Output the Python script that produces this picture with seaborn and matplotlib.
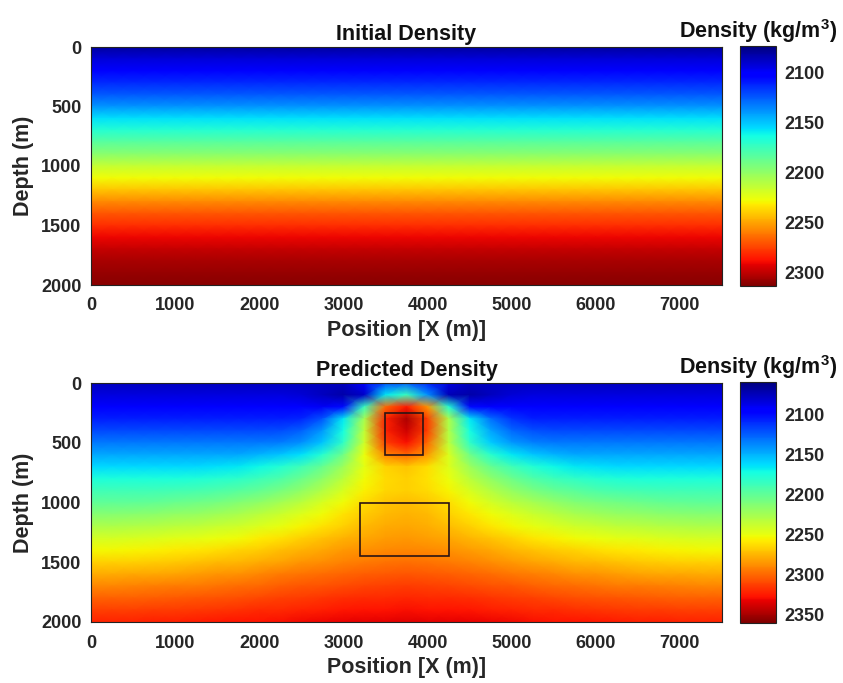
import numpy as np
import pandas as pd
import matplotlib
matplotlib.use("Agg")
import matplotlib.pyplot as plt
from matplotlib.patches import Rectangle
import seaborn as sns

# ---------------- data ----------------
# grid nodes: x every 250 m, depth every 100 m
x_nodes_m = list(range(0, 7501, 250))
depth_nodes_m = list(range(0, 2001, 100))

# initial density: depth profile (same at every x)
initial_profile = [2080, 2092, 2103, 2113, 2124, 2138, 2156, 2169, 2184, 2198,
                   2215, 2228, 2242, 2257, 2270, 2281, 2291, 2299, 2305, 2309, 2312]

# predicted density: one row per depth node, one value per x node
pred_d0000 = [2076]*13 + [2092, 2120, 2125, 2108, 2085] + [2076]*13
pred_d0100 = [2084]*10 + [2082, 2076, 2070, 2078, 2165, 2185, 2140, 2074, 2070, 2076, 2082] + [2084]*10
pred_d0200 = [2094]*9 + [2094, 2092, 2090, 2100, 2185, 2300, 2325, 2285, 2178, 2100, 2092, 2094, 2094] + [2094]*9
pred_d0300 = [2105]*10 + [2108, 2122, 2165, 2225, 2322, 2348, 2312, 2228, 2165, 2130, 2112] + [2105]*10
pred_d0400 = [2118]*9 + [2119, 2125, 2142, 2172, 2235, 2322, 2340, 2312, 2230, 2172, 2145, 2128, 2121] + [2118]*9
pred_d0500 = [2132]*9 + [2134, 2140, 2155, 2182, 2240, 2312, 2328, 2300, 2234, 2182, 2157, 2142, 2135] + [2132]*9
pred_d0600 = [2147]*8 + [2150, 2155, 2163, 2178, 2205, 2250, 2290, 2300, 2284, 2244, 2205, 2180, 2165, 2156, 2150] + [2147]*8
pred_d0700 = [2161]*6 + [2163, 2165, 2170, 2177, 2188, 2202, 2222, 2248, 2265, 2270, 2262, 2245, 2222, 2202,
                         2188, 2177, 2170, 2165, 2163] + [2161]*6
pred_d0800 = [2175]*5 + [2176, 2178, 2181, 2186, 2193, 2203, 2216, 2233, 2252, 2263, 2266, 2261, 2250, 2233,
                         2217, 2204, 2194, 2187, 2182, 2178, 2176] + [2175]*5
pred_d0900 = [2188]*4 + [2189, 2190, 2192, 2196, 2201, 2208, 2217, 2229, 2243, 2256, 2264, 2267, 2263, 2255,
                         2243, 2230, 2218, 2209, 2202, 2197, 2193, 2190, 2189] + [2188]*4
pred_d1000 = [2200, 2200, 2200, 2201, 2203, 2205, 2208, 2212, 2217, 2224, 2233, 2243, 2253, 2263, 2270, 2272,
              2269, 2262, 2252, 2242, 2233, 2225, 2218, 2213, 2209, 2206, 2204, 2202, 2201, 2200, 2200]
pred_d1100 = [2214, 2214, 2215, 2216, 2218, 2220, 2223, 2227, 2232, 2238, 2245, 2253, 2261, 2268, 2274, 2276,
              2273, 2267, 2260, 2252, 2245, 2238, 2232, 2227, 2223, 2220, 2218, 2216, 2215, 2214, 2214]
pred_d1200 = [2228, 2228, 2229, 2230, 2232, 2234, 2237, 2240, 2244, 2249, 2255, 2261, 2267, 2273, 2278, 2280,
              2277, 2272, 2266, 2260, 2254, 2249, 2244, 2240, 2237, 2234, 2232, 2230, 2229, 2228, 2228]
pred_d1300 = [2242, 2242, 2243, 2244, 2246, 2248, 2250, 2253, 2257, 2261, 2266, 2271, 2276, 2280, 2283, 2284,
              2282, 2279, 2275, 2270, 2265, 2260, 2256, 2253, 2250, 2248, 2246, 2244, 2243, 2242, 2242]
pred_d1400 = [2254, 2254, 2255, 2256, 2258, 2260, 2262, 2265, 2268, 2272, 2276, 2280, 2284, 2287, 2289, 2290,
              2289, 2286, 2283, 2279, 2275, 2271, 2268, 2265, 2262, 2260, 2258, 2256, 2255, 2254, 2254]
pred_d1500 = [2266, 2266, 2267, 2268, 2269, 2271, 2273, 2275, 2278, 2281, 2285, 2288, 2291, 2294, 2296, 2297,
              2296, 2294, 2291, 2288, 2284, 2281, 2278, 2275, 2273, 2271, 2269, 2268, 2267, 2266, 2266]
pred_d1600 = [2278, 2278, 2279, 2280, 2281, 2283, 2285, 2287, 2290, 2293, 2296, 2298, 2301, 2303, 2304, 2305,
              2304, 2303, 2301, 2298, 2295, 2292, 2290, 2287, 2285, 2283, 2281, 2280, 2279, 2278, 2278]
pred_d1700 = [2290, 2290, 2291, 2292, 2293, 2294, 2296, 2298, 2300, 2303, 2305, 2307, 2309, 2311, 2312, 2313,
              2312, 2311, 2309, 2307, 2305, 2302, 2300, 2298, 2296, 2294, 2293, 2292, 2291, 2290, 2290]
pred_d1800 = [2302, 2302, 2302, 2303, 2304, 2305, 2307, 2308, 2310, 2312, 2314, 2316, 2318, 2319, 2320, 2321,
              2320, 2319, 2318, 2316, 2314, 2312, 2310, 2308, 2307, 2305, 2304, 2303, 2302, 2302, 2302]
pred_d1900 = [2312, 2312, 2312, 2313, 2314, 2315, 2316, 2317, 2319, 2320, 2322, 2323, 2325, 2326, 2327, 2328,
              2327, 2326, 2325, 2323, 2322, 2320, 2319, 2317, 2316, 2315, 2314, 2313, 2312, 2312, 2312]
pred_d2000 = [2322, 2322, 2322, 2323, 2323, 2324, 2325, 2326, 2327, 2328, 2330, 2331, 2332, 2333, 2334, 2335,
              2334, 2333, 2332, 2331, 2330, 2328, 2327, 2326, 2325, 2324, 2323, 2323, 2322, 2322, 2322]

predicted_rows = [pred_d0000, pred_d0100, pred_d0200, pred_d0300, pred_d0400, pred_d0500, pred_d0600,
                  pred_d0700, pred_d0800, pred_d0900, pred_d1000, pred_d1100, pred_d1200, pred_d1300,
                  pred_d1400, pred_d1500, pred_d1600, pred_d1700, pred_d1800, pred_d1900, pred_d2000]

x_ticks_m = [0, 1000, 2000, 3000, 4000, 5000, 6000, 7000]
depth_ticks_m = [0, 500, 1000, 1500, 2000]
cbar_ticks_initial = [2100, 2150, 2200, 2250, 2300]
cbar_ticks_predicted = [2100, 2150, 2200, 2250, 2300, 2350]
initial_limits = (2073, 2314)
predicted_limits = (2059, 2360)

# target boxes: (x_min, x_max, depth_min, depth_max) in metres
box_upper = (3500, 3950, 250, 600)
box_lower = (3200, 4250, 1000, 1450)

# ---------------- tables ----------------
initial_df = pd.DataFrame([[v] * len(x_nodes_m) for v in initial_profile],
                          index=depth_nodes_m, columns=x_nodes_m)
predicted_df = pd.DataFrame(predicted_rows, index=depth_nodes_m, columns=x_nodes_m)

# ---------------- style ----------------
sns.set_theme(style="white")
plt.rcParams['font.family'] = ['Liberation Sans', 'DejaVu Sans']
plt.rcParams['font.weight'] = 'bold'
plt.rcParams['axes.labelweight'] = 'bold'
plt.rcParams['axes.titleweight'] = 'bold'
plt.rcParams['mathtext.fontset'] = 'custom'
plt.rcParams['mathtext.rm'] = 'Liberation Sans:bold'
plt.rcParams['mathtext.it'] = 'Liberation Sans:bold'
plt.rcParams['mathtext.bf'] = 'Liberation Sans:bold'

W, H = 843, 683
fig = plt.figure(figsize=(W / 100, H / 100), dpi=100)


def fbox(l, t, r, b):
    return [l / W, 1 - b / H, (r - l) / W, (b - t) / H]


ax1 = fig.add_axes(fbox(91, 47, 722, 285))
cax1 = fig.add_axes(fbox(740, 46, 776, 286))
ax2 = fig.add_axes(fbox(91, 383, 722, 622))
cax2 = fig.add_axes(fbox(740, 382, 776, 623))

TICK_COLOR = '#262626'
dx = x_nodes_m[1] - x_nodes_m[0]
dz = depth_nodes_m[1] - depth_nodes_m[0]


def draw(ax, cax, df, lims, cticks, title, boxes):
    sns.heatmap(df, ax=ax, cbar_ax=cax, cmap='jet', vmin=lims[0], vmax=lims[1],
                shading='gouraud', xticklabels=False, yticklabels=False)
    ax.set_xlim(0, len(x_nodes_m) - 1)
    ax.set_ylim(len(depth_nodes_m) - 1, 0)
    ax.set_xticks([v / dx for v in x_ticks_m])
    ax.set_xticklabels([str(v) for v in x_ticks_m])
    ax.set_yticks([v / dz for v in depth_ticks_m])
    ax.set_yticklabels([str(v) for v in depth_ticks_m], rotation=0)
    ax.tick_params(axis='both', direction='in', length=4, width=0.6, color='#333333',
                   top=True, right=True, bottom=True, left=True,
                   labelsize=13, labelcolor=TICK_COLOR)
    ax.tick_params(axis='x', pad=9)
    ax.tick_params(axis='y', pad=7)
    for sp in ax.spines.values():
        sp.set_visible(True)
        sp.set_color('#222222')
        sp.set_linewidth(0.8)
    ax.set_xlabel('Position [X (m)]', fontsize=15.5, color=TICK_COLOR, labelpad=4)
    ax.set_ylabel('Depth (m)', fontsize=15.5, color=TICK_COLOR, labelpad=5)
    ax.set_title(title, fontsize=15.5, color='#111111', pad=5)
    for (x0, x1, z0, z1) in boxes:
        ax.add_patch(Rectangle((x0 / dx, z0 / dz), (x1 - x0) / dx, (z1 - z0) / dz,
                               fill=False, edgecolor='#2b1414', linewidth=1.2, zorder=5))
    cbar = ax.collections[0].colorbar
    cbar.set_ticks(cticks)
    cbar.set_ticklabels([str(v) for v in cticks])
    cbar.ax.invert_yaxis()
    cbar.outline.set_visible(True)
    cbar.outline.set_linewidth(0.8)
    cbar.outline.set_edgecolor('#222222')
    cbar.ax.tick_params(direction='in', length=3, width=0.6, labelsize=13,
                        labelcolor=TICK_COLOR, pad=6)
    cax.set_title('Density (kg/m$^3$)', fontsize=15.5, color='#111111', pad=6)


draw(ax1, cax1, initial_df, initial_limits, cbar_ticks_initial, 'Initial Density', [])
draw(ax2, cax2, predicted_df, predicted_limits, cbar_ticks_predicted, 'Predicted Density',
     [box_upper, box_lower])

fig.savefig('out.png', dpi=100)
